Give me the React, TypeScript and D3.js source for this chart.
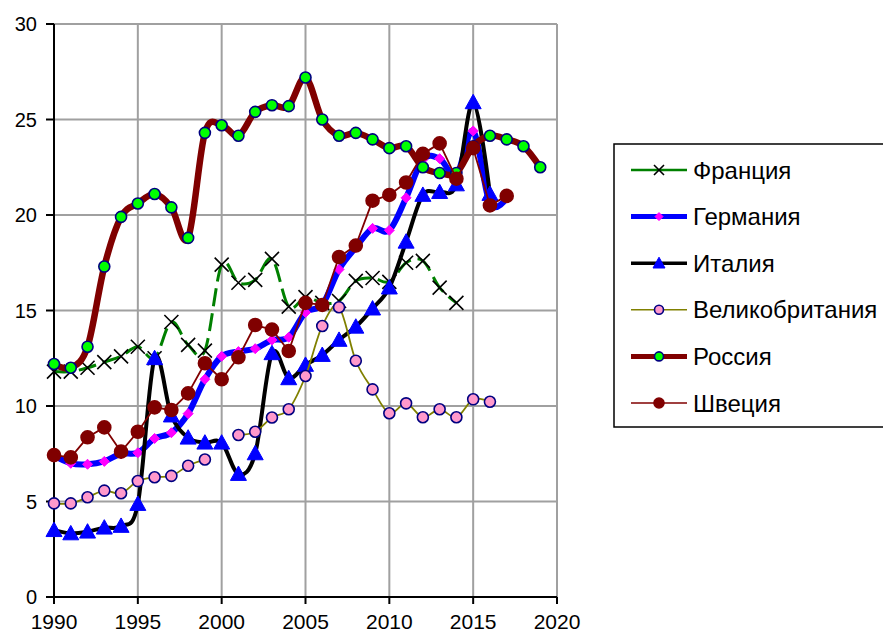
import * as d3 from 'd3';

const years = d3.range(1990, 2020);
const yTicks = [0, 5, 10, 15, 20, 25, 30];
const xTicks = [1990, 1995, 2000, 2005, 2010, 2015, 2020];

// values by year starting in 1990, null = no data
const france = [11.8, 11.8, 12.0, 12.3, 12.6, 13.1, 12.5, 14.4, 13.2, 12.9, 17.4, 16.45, 16.6, 17.7, 15.2, 15.7, 15.4, 15.5, 16.55, 16.7, 16.5, 17.5, 17.6, 16.2, 15.4];
const germany = [7.4, 7.0, 6.95, 7.1, 7.5, 7.55, 8.3, 8.6, 9.6, 11.4, 12.6, 12.85, 13.0, 13.45, 13.6, 14.9, 15.3, 17.15, 18.3, 19.3, 19.2, 20.9, 22.9, 22.95, 22.1, 24.4, 20.6, 20.9];
const italy = [3.5, 3.33, 3.42, 3.63, 3.72, 4.87, 12.5, 9.5, 8.34, 8.08, 8.08, 6.44, 7.52, 12.76, 11.45, 12.15, 12.67, 13.46, 14.15, 15.1, 16.2, 18.6, 21.05, 21.2, 21.6, 25.9, 21.1];
const uk = [4.9, 4.9, 5.22, 5.57, 5.43, 6.07, 6.27, 6.34, 6.87, 7.2, null, 8.48, 8.65, 9.4, 9.83, 11.57, 14.19, 15.17, 12.37, 10.87, 9.62, 10.14, 9.41, 9.83, 9.41, 10.35, 10.22];
const russia = [12.2, 12.0, 13.1, 17.3, 19.9, 20.6, 21.1, 20.4, 18.8, 24.3, 24.7, 24.15, 25.4, 25.75, 25.7, 27.2, 25.0, 24.15, 24.3, 23.96, 23.5, 23.6, 22.5, 22.2, 22.2, 23.6, 24.15, 23.96, 23.6, 22.5];
const sweden = [7.43, 7.31, 8.36, 8.88, 7.61, 8.65, 9.93, 9.79, 10.66, 12.24, 11.4, 12.55, 14.24, 14.0, 12.88, 15.4, 15.29, 17.8, 18.4, 20.75, 21.05, 21.7, 23.2, 23.75, 21.9, 23.5, 20.5, 21.0];

type Marker = 'x' | 'diamond' | 'triangle' | 'circle';
interface Series {
  name: string;
  values: (number | null)[];
  color: string;
  width: number;
  dash?: string;
  smooth: boolean;
  marker: Marker;
  fill: string;
  edge: string;
  size: number;
  legendWidth: number;
  legendSize: number;
}

const series: Series[] = [
  { name: 'Франция', values: france, color: '#008000', width: 3, dash: '18,7', smooth: true, marker: 'x', fill: 'none', edge: '#000000', size: 7, legendWidth: 2.5, legendSize: 5 },
  { name: 'Германия', values: germany, color: '#0000ff', width: 6, smooth: true, marker: 'diamond', fill: '#ff00ff', edge: '#ff00ff', size: 5, legendWidth: 5, legendSize: 4 },
  { name: 'Италия', values: italy, color: '#000000', width: 4, smooth: true, marker: 'triangle', fill: '#0000ff', edge: '#0000ff', size: 8, legendWidth: 3.5, legendSize: 6 },
  { name: 'Великобритания', values: uk, color: '#808000', width: 1.8, smooth: true, marker: 'circle', fill: '#ff99cc', edge: '#000080', size: 5.5, legendWidth: 1.5, legendSize: 4.5 },
  { name: 'Россия', values: russia, color: '#800000', width: 6.5, smooth: true, marker: 'circle', fill: '#00ff00', edge: '#000080', size: 5.5, legendWidth: 5, legendSize: 4.5 },
  { name: 'Швеция', values: sweden, color: '#800000', width: 1.8, smooth: false, marker: 'circle', fill: '#800000', edge: '#800000', size: 6.5, legendWidth: 1.5, legendSize: 5 },
];

const W = 883;
const H = 633;
const x = d3.scaleLinear().domain([1990, 2020]).range([54, 557]);
const y = d3.scaleLinear().domain([0, 30]).range([597, 24]);

const font = '"Liberation Sans", Arial, sans-serif';

function MarkerShape({ type, cx, cy, s, fill, edge }: { type: Marker; cx: number; cy: number; s: number; fill: string; edge: string }) {
  if (type === 'x') {
    return (
      <path d={`M${cx - s},${cy - s}L${cx + s},${cy + s}M${cx - s},${cy + s}L${cx + s},${cy - s}`} stroke={edge} strokeWidth={1.6} fill="none" />
    );
  }
  if (type === 'diamond') {
    return <path d={`M${cx},${cy - s}L${cx + s},${cy}L${cx},${cy + s}L${cx - s},${cy}Z`} fill={fill} stroke={edge} strokeWidth={1} />;
  }
  if (type === 'triangle') {
    return <path d={`M${cx},${cy - s}L${cx + s},${cy + s * 0.8}L${cx - s},${cy + s * 0.8}Z`} fill={fill} stroke={edge} strokeWidth={1} />;
  }
  return <circle cx={cx} cy={cy} r={s} fill={fill} stroke={edge} strokeWidth={1.6} />;
}

export default function App() {
  return (
    <svg width={W} height={H} style={{ position: 'absolute', left: 0, top: 0, background: '#fff' }} fontFamily={font}>
      {/* grid */}
      <g stroke="#a0a0a0" strokeWidth={2}>
        {yTicks.map((t) => (
          <line key={'gy' + t} x1={x(1990)} x2={x(2020)} y1={y(t)} y2={y(t)} />
        ))}
        {d3.range(1990, 2021, 5).map((t) => (
          <line key={'gx' + t} x1={x(t)} x2={x(t)} y1={y(0)} y2={y(30)} />
        ))}
      </g>
      {/* axes */}
      <g stroke="#000" strokeWidth={2}>
        <line x1={x(1990)} x2={x(1990)} y1={y(0)} y2={y(30)} />
        <line x1={x(1990)} x2={x(2020)} y1={y(0)} y2={y(0)} />
        {yTicks.map((t) => (
          <line key={'ty' + t} x1={x(1990) - 8} x2={x(1990)} y1={y(t)} y2={y(t)} />
        ))}
        {xTicks.map((t) => (
          <line key={'tx' + t} x1={x(t)} x2={x(t)} y1={y(0)} y2={y(0) + 7} />
        ))}
      </g>
      <g fill="#000">
        {yTicks.map((t) => (
          <text key={'ly' + t} x={37} y={y(t)} dy="0.35em" textAnchor="end" fontSize={20}>
            {t}
          </text>
        ))}
        {xTicks.map((t) => (
          <text key={'lx' + t} x={x(t)} y={629} textAnchor="middle" fontSize={21}>
            {t}
          </text>
        ))}
      </g>
      {/* series */}
      {series.map((s) => {
        const pts = s.values.map((v, i) => [years[i], v] as [number, number | null]);
        const line = d3
          .line<[number, number | null]>()
          .defined((d) => d[1] != null)
          .x((d) => x(d[0]))
          .y((d) => y(d[1] as number))
          .curve(s.smooth ? d3.curveCatmullRom.alpha(0) : d3.curveLinear);
        return (
          <g key={s.name}>
            <path d={line(pts) || ''} fill="none" stroke={s.color} strokeWidth={s.width} strokeDasharray={s.dash} strokeLinejoin="round" />
            {pts
              .filter((d) => d[1] != null)
              .map((d) => (
                <MarkerShape key={d[0]} type={s.marker} cx={x(d[0])} cy={y(d[1] as number)} s={s.size} fill={s.fill} edge={s.edge} />
              ))}
          </g>
        );
      })}
      {/* legend */}
      <rect x={614} y={144} width={290} height={283} fill="#fff" stroke="#000" strokeWidth={1.5} />
      {series.map((s, i) => {
        const cy = 170 + i * 46.6;
        return (
          <g key={'lg' + s.name}>
            <line x1={631} x2={687} y1={cy} y2={cy} stroke={s.color} strokeWidth={s.legendWidth} />
            <MarkerShape type={s.marker} cx={659} cy={cy} s={s.legendSize} fill={s.fill} edge={s.edge} />
            <text x={693} y={cy} dy="0.36em" fontSize={24} fill="#000">
              {s.name}
            </text>
          </g>
        );
      })}
    </svg>
  );
}
